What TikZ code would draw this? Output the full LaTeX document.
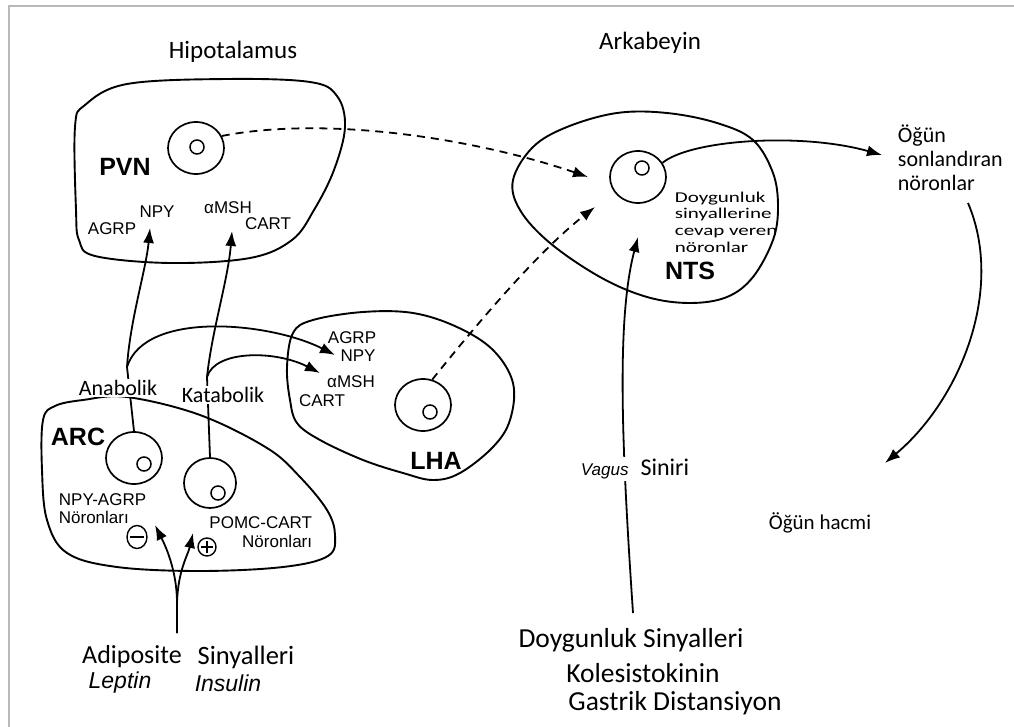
\documentclass[tikz,border=0pt]{standalone}
\usepackage{fontspec}
\setmainfont{Carlito}
\newfontfamily\arial{Liberation Sans}
\newfontfamily\wide[FakeStretch=1.4]{Carlito}
\usetikzlibrary{arrows.meta,shapes.geometric}
\begin{document}
\begin{tikzpicture}[x=1pt,y=-1pt,line width=1.8pt,
  tip/.style={-{Latex[length=15pt,width=11pt]}},
  blob/.style={line width=1.9pt},
  cell/.style={draw,ellipse,minimum width=56pt,minimum height=52pt,inner sep=0pt,line width=1.7pt},
  nuc/.style={draw,circle,minimum size=14pt,inner sep=0pt,line width=1.5pt},
  lab/.style={font=\arial\fontsize{17}{19}\selectfont,inner sep=0pt},
  big/.style={font=\arial\bfseries\fontsize{25}{28}\selectfont,inner sep=0pt},
  cal/.style={font=\fontsize{22}{26}\selectfont,inner sep=0pt},
  dsh/.style={dash pattern=on 8pt off 6pt}]
\useasboundingbox (0,0) rectangle (1014,727);
\draw[gray!55,line width=2.2pt] (9,727) -- (9,6) -- (1014,6);

% blobs
\draw[blob] plot[smooth cycle,tension=0.6] coordinates {(85,105) (127,84) (227,79) (310,82) (337,96) (345,127) (334,170) (314,210) (292,240) (250,258) (170,263) (95,256) (79,240) (76,210) (75,127)};
\draw[blob] plot[smooth cycle,tension=0.6] coordinates {(513,180) (533,147) (567,127) (617,113) (667,113) (717,123) (753,140) (773,173) (778,207) (773,240) (753,277) (727,297) (690,303) (647,297) (600,277) (550,243) (520,210)};
\draw[blob] plot[smooth cycle,tension=0.6] coordinates {(287,367) (293,333) (313,320) (363,312) (413,313) (457,327) (493,350) (513,383) (510,420) (493,447) (460,473) (433,480) (403,473) (363,460) (320,440) (297,423) (290,400)};
\draw[blob] plot[smooth cycle,tension=0.6] coordinates {(43,420) (55,406) (83,400) (127,397) (200,415) (267,448) (300,477) (327,510) (335,535) (328,556) (283,567) (200,571) (117,567) (67,553) (47,520) (42,470)};

% cells
\node[cell] (pvnc) at (196,148) {};
\node[nuc] (pvnn) at (197,147) {};
\node[cell] (ntsc) at (638,177) {};
\node[nuc] (ntsn) at (642,168) {};
\node[cell] (lhac) at (423,405) {};
\node[nuc] (lhan) at (430,412) {};
\node[cell] (arca) at (134,458) {};
\node[nuc] (arcan) at (144,464) {};
\node[cell,minimum width=52pt,minimum height=50pt] (arcb) at (210,483) {};
\node[nuc] (arcbn) at (218,493) {};

% coordinates
\coordinate (tPVN1) at (150,228);
\coordinate (tPVN2) at (232,231);
\coordinate (tLHA1) at (335,355);
\coordinate (tLHA2) at (320,373);
\coordinate (tNTS1) at (588,177);
\coordinate (tNTS2) at (595,207);
\coordinate (tNTS3) at (638,237);
\coordinate (tOgun) at (882,155);
\coordinate (tHacmi) at (885,463);
\coordinate (tARC1) at (155,525);
\coordinate (tARC2) at (193,533);
\coordinate (J1) at (127,367);
\coordinate (J2) at (207,377);
\coordinate (vb) at (633,613);
\coordinate (hs) at (968,203);
\coordinate (ab) at (177,633);
\coordinate (as) at (177,603);

% connectors
\draw[tip,dsh] (pvnc.25) .. controls (330,115) and (480,140) .. (tNTS1);
\draw[tip,dsh] (lhac.70) .. controls (480,320) and (540,250) .. (tNTS2);
\draw[tip] (J1) .. controls (130,320) and (146,270) .. (tPVN1);
\draw[tip] (J1) .. controls (145,310) and (270,322) .. (tLHA1);
\draw (J1) -- (arca.north);
\draw[tip] (J2) .. controls (212,330) and (228,280) .. (tPVN2);
\draw[tip] (J2) .. controls (215,350) and (275,350) .. (tLHA2);
\draw (J2) -- (arcb.north);
\draw[tip] (ab) -- (as) .. controls (177,570) and (165,545) .. (tARC1);
\draw[tip] (ab) -- (as) .. controls (178,570) and (188,555) .. (tARC2);
\draw[tip] (vb) .. controls (622,450) and (616,320) .. (tNTS3);
\draw[tip] (ntsc.30) .. controls (690,140) and (800,132) .. (tOgun);
\draw[tip] (hs) .. controls (1005,290) and (960,400) .. (tHacmi);

% plus / minus
\node[draw,ellipse,minimum width=20pt,minimum height=23pt,inner sep=0pt,line width=1.4pt] (minus) at (137,537) {};
\draw[line width=1.6pt] ([xshift=-7pt]minus.center) -- ([xshift=7pt]minus.center);
\node[draw,circle,minimum size=18pt,inner sep=0pt,line width=1.4pt] (plus) at (207,547) {};
\draw[line width=1.5pt] ([xshift=-6pt]plus.center) -- ([xshift=6pt]plus.center);
\draw[line width=1.5pt] ([yshift=-6pt]plus.center) -- ([yshift=6pt]plus.center);

% titles
\node[cal,font=\fontsize{25}{29}\selectfont] (hip) at (233,52) {Hipotalamus};
\node[cal,font=\fontsize{25}{29}\selectfont] (ark) at (650,43) {Arkabeyin};

% PVN
\node[big] (pvn) at (125,167) {PVN};
\node[lab] (pnpy) at (157,212) {NPY};
\node[lab] (pagrp) at (112,229) {AGRP};
\node[lab] (pmsh) at (228,208) {αMSH};
\node[lab] (pcart) at (268,224) {CART};

% LHA
\node[lab] (lagrp) at (352,338) {AGRP};
\node[lab] (lnpy) at (358,356) {NPY};
\node[lab] (lmsh) at (351,382) {αMSH};
\node[lab] (lcart) at (322,401) {CART};
\node[big] (lha) at (436,461) {LHA};

% NTS
\node[big] (nts) at (690,271) {NTS};
\node[inner sep=0pt,anchor=west,align=left,font=\wide\fontsize{15}{16.7}\selectfont] (doyn) at (674,222) {Doygunluk\\sinyallerine\\cevap veren\\nöronlar};

% ARC
\node[big] (arc) at (78,437) {ARC};
\node[cal,fill=white,inner sep=1pt] (anab) at (118,388) {Anabolik};
\node[cal,fill=white,inner sep=1pt] (katab) at (223,395) {Katabolik};
\node[lab,anchor=west,align=left,font=\arial\fontsize{17}{18}\selectfont] (npyagrp) at (58,509) {NPY-AGRP\\Nöronları};
\node[lab,anchor=east,align=right,font=\arial\fontsize{17}{19}\selectfont] (pomc) at (313,532) {POMC-CART\\Nöronları};

% right side
\node[inner sep=0pt,anchor=west,align=left,font=\fontsize{22}{24}\selectfont] (ogun) at (897,158) {Öğün\\sonlandıran\\nöronlar};
\node[inner sep=0pt,font=\fontsize{21}{24}\selectfont] (hacmi) at (820,523) {Öğün hacmi};
\node[fill=white,inner sep=2pt] (vagus) at (635,469) {{\arial\itshape\fontsize{17}{20}\selectfont Vagus}\hspace{12pt}{\fontsize{24}{26}\selectfont Siniri}};

% bottom
\node[inner sep=0pt,font=\fontsize{26}{29}\selectfont] (adip) at (132,657) {Adiposite};
\node[inner sep=0pt,font=\fontsize{26.5}{29}\selectfont] (siny) at (246,657) {Sinyalleri};
\node[inner sep=0pt,font=\arial\itshape\fontsize{23}{25}\selectfont] (lept) at (120,683) {Leptin};
\node[inner sep=0pt,font=\arial\itshape\fontsize{23}{25}\selectfont] (insu) at (228,683) {Insulin};
\node[inner sep=0pt,font=\fontsize{27.5}{30}\selectfont] (doy) at (631,640) {Doygunluk Sinyalleri};
\node[inner sep=0pt,font=\fontsize{27.5}{30}\selectfont] (kol) at (643,673) {Kolesistokinin};
\node[inner sep=0pt,font=\fontsize{27.5}{30}\selectfont] (gas) at (675,703) {Gastrik Distansiyon};
\end{tikzpicture}
\end{document}
